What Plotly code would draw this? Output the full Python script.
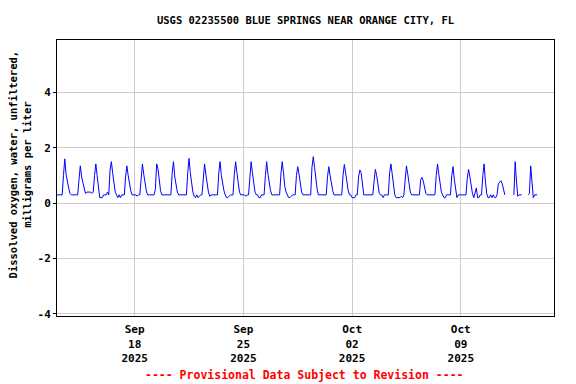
import pandas as pd
import plotly.graph_objects as go

TITLE = "USGS 02235500 BLUE SPRINGS NEAR ORANGE CITY, FL"
Y_TITLE = "Dissolved oxygen, water, unfiltered,<br>milligrams per liter"
FOOTER = "---- Provisional Data Subject to Revision ----"

START = "2025-09-13 00:00"
END = "2025-10-15 00:00"

# Dissolved oxygen (mg/L), one row per day, 2-hourly readings (00,02,...,22 h)
d00 = [0.3, 0.3, 0.3, 0.3, 0.3, 1.0, 1.6, 1.05, 0.75, 0.55, 0.35, 0.3]
d01 = [0.3, 0.3, 0.3, 0.3, 0.3, 0.85, 1.35, 0.95, 0.7, 0.5, 0.35, 0.4]
d02 = [0.4, 0.4, 0.4, 0.35, 0.4, 1.0, 1.42, 1.0, 0.6, 0.2, 0.2, 0.2]
d03 = [0.3, 0.3, 0.3, 0.4, 0.3, 1.2, 1.5, 1.1, 0.7, 0.4, 0.3, 0.2]
d04 = [0.3, 0.2, 0.3, 0.3, 0.3, 0.95, 1.35, 1.0, 0.7, 0.45, 0.3, 0.3]
d05 = [0.3, 0.3, 0.25, 0.3, 0.3, 1.0, 1.42, 1.05, 0.65, 0.45, 0.3, 0.3]
d06 = [0.3, 0.3, 0.3, 0.3, 0.5, 1.42, 1.25, 0.75, 0.45, 0.3, 0.3, 0.3]
d07 = [0.3, 0.3, 0.3, 0.3, 0.3, 1.1, 1.5, 0.95, 0.6, 0.4, 0.3, 0.3]
d08 = [0.3, 0.3, 0.3, 0.3, 0.3, 1.1, 1.62, 1.1, 0.7, 0.4, 0.25, 0.2]
d09 = [0.3, 0.2, 0.25, 0.3, 0.3, 1.0, 1.42, 1.05, 0.7, 0.4, 0.25, 0.3]
d10 = [0.3, 0.3, 0.3, 0.3, 0.3, 1.1, 1.5, 1.0, 0.7, 0.45, 0.3, 0.2]
d11 = [0.2, 0.25, 0.3, 0.3, 0.3, 1.05, 1.5, 1.1, 0.75, 0.4, 0.3, 0.3]
d12 = [0.3, 0.3, 0.25, 0.3, 0.3, 1.0, 1.5, 1.1, 0.7, 0.4, 0.3, 0.3]
d13 = [0.2, 0.2, 0.3, 0.3, 0.3, 1.0, 1.5, 1.05, 0.7, 0.45, 0.3, 0.3]
d14 = [0.3, 0.3, 0.3, 0.3, 0.3, 1.05, 1.5, 1.1, 0.6, 0.4, 0.3, 0.2]
d15 = [0.2, 0.25, 0.3, 0.3, 0.3, 1.0, 1.32, 1.05, 0.7, 0.4, 0.3, 0.3]
d16 = [0.3, 0.3, 0.3, 0.3, 0.3, 1.3, 1.68, 1.3, 0.8, 0.5, 0.3, 0.3]
d17 = [0.3, 0.3, 0.3, 0.3, 0.3, 0.95, 1.32, 1.0, 0.7, 0.45, 0.3, 0.3]
d18 = [0.3, 0.3, 0.3, 0.3, 0.3, 1.0, 1.4, 1.1, 0.75, 0.45, 0.3, 0.3]
d19 = [0.2, 0.2, 0.2, 0.3, 0.3, 0.95, 1.2, 1.1, 0.6, 0.3, 0.3, 0.3]
d20 = [0.3, 0.3, 0.3, 0.3, 0.3, 0.8, 1.22, 1.0, 0.6, 0.35, 0.3, 0.3]
d21 = [0.2, 0.3, 0.3, 0.3, 0.3, 1.1, 1.42, 1.05, 0.65, 0.3, 0.2, 0.2]
d22 = [0.2, 0.2, 0.25, 0.2, 0.3, 1.0, 1.35, 1.05, 0.7, 0.4, 0.3, 0.3]
d23 = [0.3, 0.3, 0.3, 0.3, 0.3, 0.85, 0.93, 0.8, 0.55, 0.35, 0.3, 0.3]
d24 = [0.3, 0.3, 0.3, 0.3, 0.3, 1.0, 1.42, 1.05, 0.65, 0.4, 0.3, 0.2]
d25 = [0.2, 0.3, 0.3, 0.3, 0.3, 1.0, 1.32, 0.85, 0.45, 0.2, 0.3, 0.3]
d26 = [0.3, 0.3, 0.3, 0.3, 0.3, 0.9, 1.22, 0.95, 0.55, 0.35, 0.2, 0.4]
d27 = [0.55, 0.2, 0.2, 0.3, 0.3, 1.0, 1.42, 0.8, 0.35, 0.2, 0.2, 0.3]
d28 = [0.2, 0.3, 0.2, 0.2, 0.3, 0.7, 0.75, 0.81, 0.7, 0.5, 0.3, None]
d29 = [None, None, None, None, None, 0.3, 1.5, 0.8, 0.25, 0.3, 0.3, 0.3]
d30 = [None, None, None, None, 0.3, 0.35, 1.35, 0.85, 0.2, 0.3, 0.3, 0.3]

days = [d00, d01, d02, d03, d04, d05, d06, d07, d08, d09, d10, d11, d12, d13,
        d14, d15, d16, d17, d18, d19, d20, d21, d22, d23, d24, d25, d26, d27,
        d28, d29, d30]
do_values = [v for day in days for v in day]
times = pd.date_range(START, periods=len(do_values), freq="2h")

x_tick_vals = ["2025-09-18", "2025-09-25", "2025-10-02", "2025-10-09"]
x_tick_text = ["Sep<br>18<br>2025", "Sep<br>25<br>2025", "Oct<br>02<br>2025", "Oct<br>09<br>2025"]
y_tick_vals = [-4, -2, 0, 2, 4]
y_tick_text = ["-4", "-2", "0", "2", "4"]

FONT = "DejaVu Sans Mono"

fig = go.Figure()
fig.add_trace(go.Scatter(
    x=times, y=do_values, mode="lines",
    line=dict(color="#0000ff", width=1),
    connectgaps=False, showlegend=False,
))

fig.update_layout(
    width=576, height=384,
    margin=dict(l=57, r=22, t=40, b=68),
    paper_bgcolor="white", plot_bgcolor="white",
    title=dict(text=TITLE, x=0.5, xref="paper", y=1 - 20 / 384, yref="container",
               yanchor="middle", xanchor="center",
               font=dict(family=FONT, size=10.5, color="black", weight="bold")),
    xaxis=dict(
        range=[START, END], tickvals=x_tick_vals, ticktext=x_tick_text,
        showgrid=True, gridcolor="#cccccc", gridwidth=1,
        showline=True, linecolor="black", linewidth=1, mirror=True,
        ticks="", zeroline=False, ticklabelstandoff=3,
        tickfont=dict(family=FONT, size=11, color="black", weight="bold"),
    ),
    yaxis=dict(
        range=[-4.08, 5.9], tickvals=y_tick_vals, ticktext=y_tick_text,
        showgrid=True, gridcolor="#cccccc", gridwidth=1,
        showline=True, linecolor="black", linewidth=1, mirror=True,
        ticks="outside", ticklen=3, tickcolor="black", zeroline=False,
        tickfont=dict(family=FONT, size=11, color="black", weight="bold"),
    ),
    annotations=[
        dict(text=Y_TITLE, textangle=-90, xref="paper", yref="paper",
             x=-0.074, y=0.55, xanchor="center", yanchor="middle", showarrow=False,
             font=dict(family=FONT, size=10.5, color="black", weight="bold")),
        dict(text=FOOTER, xref="paper", yref="paper", x=0.497, y=-0.214,
             xanchor="center", yanchor="middle", showarrow=False,
             font=dict(family=FONT, size=11.5, color="red", weight="bold")),
    ],
)

fig.write_html(
    "out.html",
    config={"displayModeBar": False},
    post_script="document.body.style.margin='0';document.body.style.overflow='hidden';",
)
